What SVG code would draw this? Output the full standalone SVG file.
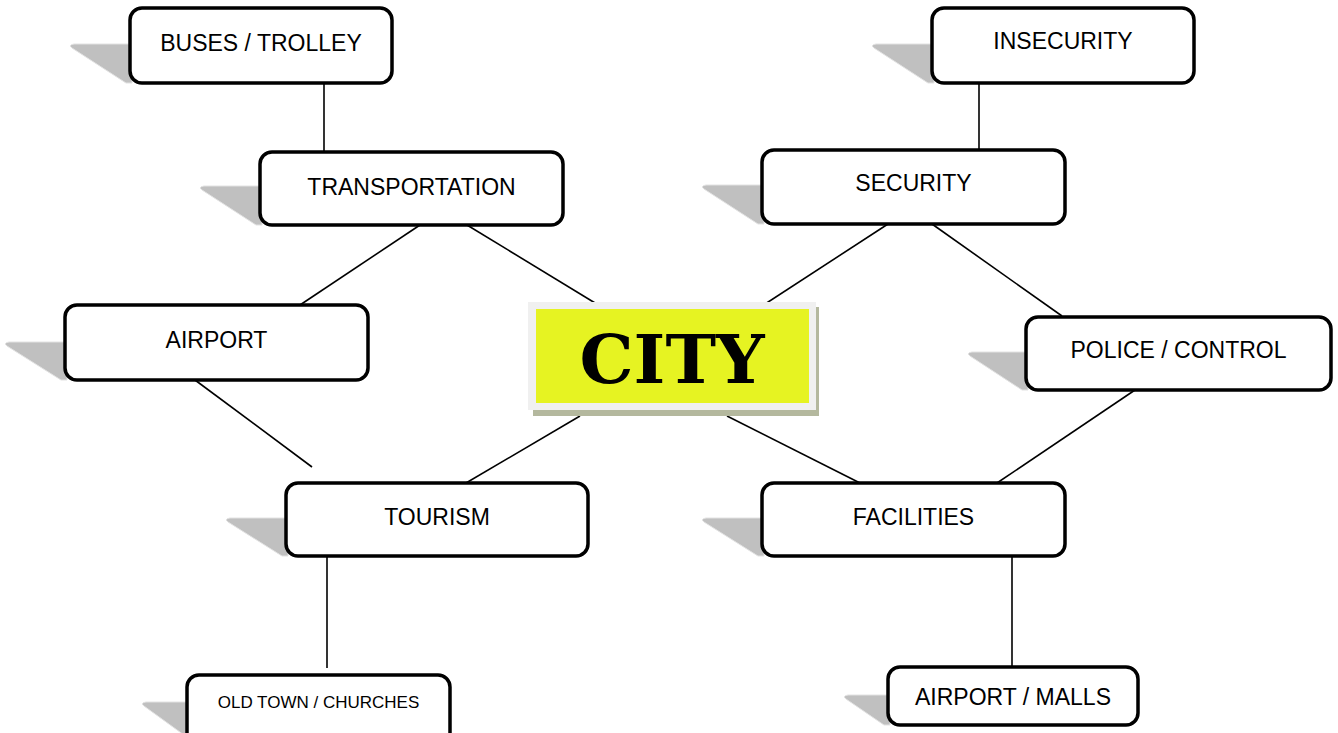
<svg xmlns="http://www.w3.org/2000/svg" width="1338" height="733" viewBox="0 0 1338 733">
<style>
.box{fill:#ffffff;stroke:#000000;stroke-width:3.5}
.sh{fill:#c0c0c0;stroke:#e2e2e2;stroke-width:1}
.lbl{font-family:"Liberation Sans",Arial,sans-serif;font-size:23px;fill:#000;text-anchor:middle}
.sm{font-size:17px}
.ln{stroke:#000;stroke-width:1.6;fill:none}
</style>
<rect width="1338" height="733" fill="#ffffff"/>
<g id="connectors">
<line class="ln" x1="324" y1="83" x2="324" y2="152"/>
<line class="ln" x1="979" y1="83" x2="979" y2="150"/>
<line class="ln" x1="420" y1="225" x2="300" y2="305"/>
<line class="ln" x1="467" y1="225" x2="600" y2="306"/>
<line class="ln" x1="195" y1="380" x2="312" y2="467"/>
<line class="ln" x1="580" y1="416" x2="466" y2="483"/>
<line class="ln" x1="327" y1="556" x2="327" y2="668"/>
<line class="ln" x1="888" y1="224" x2="762" y2="306"/>
<line class="ln" x1="932" y1="224" x2="1062" y2="316"/>
<line class="ln" x1="1135" y1="390" x2="997" y2="483"/>
<line class="ln" x1="727" y1="416" x2="860" y2="483"/>
<line class="ln" x1="1012" y1="556" x2="1012" y2="667"/>
</g>
<g id="n-buses">
<path class="sh" d="M72,48 Q68,45 74,44 L132,44 L132,83 L126,83 Z"/>
<rect class="box" x="130" y="8" width="262" height="75" rx="12"/>
<text class="lbl" x="261" y="51">BUSES / TROLLEY</text>
</g>
<g id="n-transportation">
<path class="sh" d="M202,190 Q198,187 204,186 L262,186 L262,225 L256,225 Z"/>
<rect class="box" x="260" y="152" width="303" height="73" rx="12"/>
<text class="lbl" x="411.5" y="195">TRANSPORTATION</text>
</g>
<g id="n-airport">
<path class="sh" d="M7,346 Q3,343 9,342 L67,342 L67,380 L61,380 Z"/>
<rect class="box" x="65" y="305" width="303" height="75" rx="12"/>
<text class="lbl" x="216.5" y="348">AIRPORT</text>
</g>
<g id="n-tourism">
<path class="sh" d="M228,522 Q224,519 230,518 L288,518 L288,556 L282,556 Z"/>
<rect class="box" x="286" y="483" width="302" height="73" rx="12"/>
<text class="lbl" x="437" y="525">TOURISM</text>
</g>
<g id="n-oldtown">
<path class="sh" d="M144,706 Q140,703 146,702 L189,702 L189,735 L184,735 Z"/>
<rect class="box" x="187" y="675" width="263" height="70" rx="12"/>
<text class="lbl sm" x="318.5" y="708">OLD TOWN / CHURCHES</text>
</g>
<g id="n-city">
<rect x="533" y="307" width="286" height="109" fill="#b4b89e"/>
<rect x="528" y="302" width="288" height="108" fill="#f0f0f0"/>
<rect x="536" y="309" width="273" height="94" fill="#e6f322"/>
<text x="672" y="383" font-family="'DejaVu Serif',serif" font-weight="bold" font-size="68" text-anchor="middle" fill="#000">CITY</text>
</g>
<g id="n-insecurity">
<path class="sh" d="M874,48 Q870,45 876,44 L934,44 L934,83 L928,83 Z"/>
<rect class="box" x="932" y="8" width="262" height="75" rx="12"/>
<text class="lbl" x="1063" y="49">INSECURITY</text>
</g>
<g id="n-security">
<path class="sh" d="M704,189 Q700,186 706,185 L764,185 L764,224 L758,224 Z"/>
<rect class="box" x="762" y="150" width="303" height="74" rx="12"/>
<text class="lbl" x="913.5" y="191">SECURITY</text>
</g>
<g id="n-police">
<path class="sh" d="M970,356 Q966,353 972,352 L1028,352 L1028,390 L1022,390 Z"/>
<rect class="box" x="1026" y="317" width="305" height="73" rx="12"/>
<text class="lbl" x="1178.5" y="358">POLICE / CONTROL</text>
</g>
<g id="n-facilities">
<path class="sh" d="M704,522 Q700,519 706,518 L764,518 L764,556 L758,556 Z"/>
<rect class="box" x="762" y="483" width="303" height="73" rx="12"/>
<text class="lbl" x="913.5" y="525">FACILITIES</text>
</g>
<g id="n-malls">
<path class="sh" d="M846,699 Q842,696 848,695 L890,695 L890,725 L884,725 Z"/>
<rect class="box" x="888" y="667" width="250" height="58" rx="12"/>
<text class="lbl" x="1013" y="705">AIRPORT / MALLS</text>
</g>
</svg>
